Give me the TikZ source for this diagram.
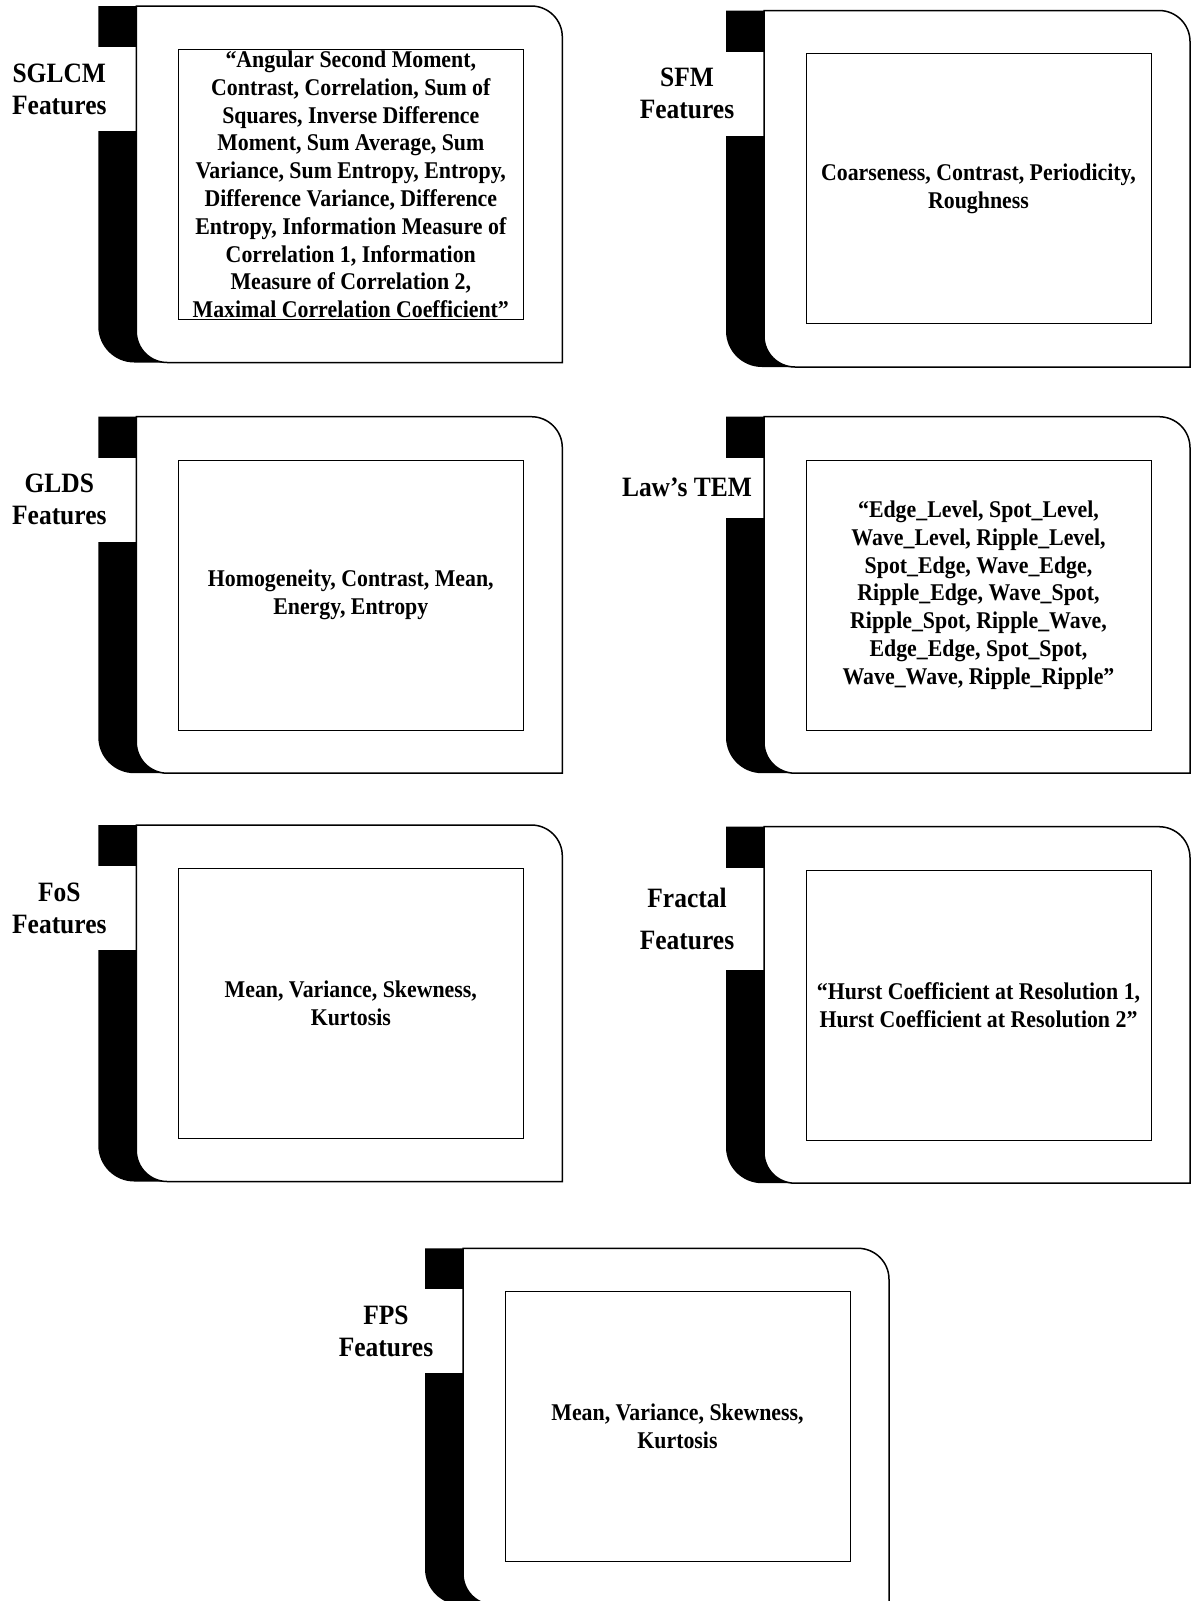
\documentclass[tikz,border=0pt]{standalone}
\usepackage{fontspec}
\setmainfont{Liberation Serif}[FakeStretch=0.91]

% One feature card: black spine with a rounded foot, a white label gap,
% a white card with two rounded corners and an inner framed list.
% #1 name, #2 left x, #3 top y, #4 bottom of the label gap, #5 tag, #6 body
\newcommand\featpanel[6]{%
  \begin{scope}[shift={(#2,#3)}]
    \fill[blackstrip] (90,0) -- (0,0) -- (0,320.5)
      .. controls (0,340.38) and (16.12,356.5) .. (36,356.5)
      -- (90,356.5) -- cycle;
    \fill[labelgap] (-2,41) rectangle (38,#4);
    \draw[outerbox] (38,0) -- (433,0)
      .. controls (450.12,0) and (464,13.88) .. (464,31)
      -- (464,356.5) -- (69,356.5)
      .. controls (51.88,356.5) and (38,342.62) .. (38,325.5) -- cycle;
    \node[tagtext] (#1-tag) at (-39,{(41+#4)/2}) {#5};
    \node[bodybox] (#1-body) at (252.5,178.4) {#6};
  \end{scope}}

\tikzset{
  x=0.5pt, y=-0.5pt,
  blackstrip/.style={fill=black},
  labelgap/.style={fill=white},
  outerbox/.style={draw=black, fill=white, line width=0.75pt},
  tagtext/.style={font=\fontsize{14}{16.1}\selectfont\bfseries, align=center, inner sep=0pt},
  bodybox/.style={draw=black, line width=0.5pt, inner sep=0pt,
    minimum width=172.5pt, minimum height=135pt,
    font=\fontsize{12}{13.9}\selectfont\bfseries, align=center},
}

\begin{document}
\begin{tikzpicture}
  \useasboundingbox[fill=white] (0,0) rectangle (1192,1601);

  \featpanel{sglcm}{98.3}{6}{125}{SGLCM\\Features}{%
    “Angular Second Moment,\\Contrast, Correlation, Sum of\\Squares, Inverse Difference\\%
    Moment, Sum Average, Sum\\Variance, Sum Entropy, Entropy,\\Difference Variance, Difference\\%
    Entropy, Information Measure of\\Correlation 1, Information\\Measure of Correlation 2,\\%
    Maximal Correlation Coefficient”}

  \featpanel{sfm}{726}{10.5}{125}{SFM\\Features}{%
    Coarseness, Contrast, Periodicity,\\Roughness}

  \featpanel{glds}{98.3}{416.7}{125}{GLDS\\Features}{%
    Homogeneity, Contrast, Mean,\\Energy, Entropy}

  \featpanel{laws}{726}{416.7}{101}{Law’s TEM}{%
    “Edge\_Level, Spot\_Level,\\Wave\_Level, Ripple\_Level,\\Spot\_Edge, Wave\_Edge,\\%
    Ripple\_Edge, Wave\_Spot,\\Ripple\_Spot, Ripple\_Wave,\\Edge\_Edge, Spot\_Spot,\\%
    Wave\_Wave, Ripple\_Ripple”}

  \featpanel{fos}{98.3}{825}{125}{FoS\\Features}{%
    Mean, Variance, Skewness,\\Kurtosis}

  \featpanel{fractal}{726}{826.7}{143.5}{Fractal\\[5.2pt]Features}{%
    “Hurst Coefficient at Resolution 1,\\Hurst Coefficient at Resolution 2”}

  \featpanel{fps}{425}{1248.3}{125}{FPS\\Features}{%
    Mean, Variance, Skewness,\\Kurtosis}
\end{tikzpicture}
\end{document}
